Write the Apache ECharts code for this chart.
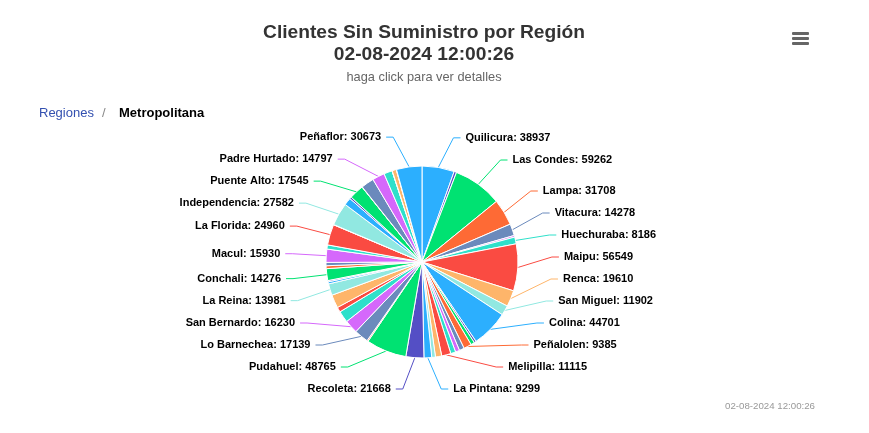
<!DOCTYPE html>
<html>
<head>
<meta charset="utf-8">
<script src="https://cdn.jsdelivr.net/npm/echarts@6/dist/echarts.min.js"></script>
<style>
html,body{margin:0;padding:0;background:#fff;}
#chart{width:869px;height:433px;}
</style>
</head>
<body>
<div id="chart"></div>
<script>
// Comunas (clockwise from the top); "Otra n" are unlabeled small slices
var names = ["Quilicura","Otra 1","Las Condes","Lampa","Vitacura","Otra 2","Huechuraba","Maipu","Renca","San Miguel",
  "Colina","Otra 3","Otra 4","Peñalolen","Otra 5","Otra 6","Otra 7","Melipilla","Otra 8","Otra 9",
  "La Pintana","Recoleta","Pudahuel","Otra 10","Lo Barnechea","San Bernardo","Otra 11","Otra 12","Otra 13","La Reina",
  "Otra 14","Otra 15","Conchali","Otra 16","Otra 17","Macul","Otra 18","La Florida","Otra 19","Independencia",
  "Otra 20","Otra 21","Puente Alto","Otra 22","Otra 23","Padre Hurtado","Otra 24","Otra 25","Otra 26","Otra 27",
  "Peñaflor"];
var values = [38937,3000,59262,31708,14278,2000,8186,56549,19610,11902,
  44701,2500,4500,9385,6000,5000,6000,11115,7500,4500,
  9299,21668,48765,1400,17139,16230,14000,6000,16000,13981,
  2500,1500,14276,3500,4000,15930,5000,24960,300,27582,
  9000,2300,17545,300,15600,14797,10000,300,5000,300,
  30673];
var labeled = ["Quilicura","Las Condes","Lampa","Vitacura","Huechuraba","Maipu","Renca","San Miguel","Colina",
  "Peñalolen","Melipilla","La Pintana","Recoleta","Pudahuel","Lo Barnechea","San Bernardo","La Reina","Conchali",
  "Macul","La Florida","Independencia","Puente Alto","Padre Hurtado","Peñaflor"];
var palette = ["#2caffe","#544fc5","#00e272","#fe6a35","#6b8abc","#d568fb","#2ee0ca","#fa4b42","#feb56a","#91e8e1"];
var titleLine1 = "Clientes Sin Suministro por Región";
var titleLine2 = "02-08-2024 12:00:26";
var subtitleText = "haga click para ver detalles";
var stampText = "02-08-2024 12:00:26";

var FONT = "'Liberation Sans', Arial, Helvetica, sans-serif";

// ---- pie geometry & data-label distribution (Highcharts-like) ----
var CX = 422, CY = 262, R = 96;
var LABEL_DIST = 30, GAP = 22, TOP = 136, BOTTOM = 389, XR = 142;
var total = values.reduce(function (a, b) { return a + b; }, 0);
var mids = [], acc = 0;
values.forEach(function (v) { mids.push((acc + v / 2) / total * 2 * Math.PI); acc += v; });

var rightList = [], leftList = [];
names.forEach(function (n, i) {
  if (labeled.indexOf(n) < 0) return;
  var item = {i: i, ideal: CY - (R + LABEL_DIST) * Math.cos(mids[i])};
  if (mids[i] < Math.PI) rightList.push(item); else leftList.push(item);
});
rightList.sort(function (a, b) { return mids[a.i] - mids[b.i]; });
leftList.sort(function (a, b) { return mids[b.i] - mids[a.i]; });

function distribute(list) {
  var n = list.length, k;
  for (k = 0; k < n; k++) list[k].y = Math.max(list[k].ideal, k === 0 ? TOP : list[k - 1].y + GAP);
  for (k = n - 1; k >= 0; k--) list[k].y = Math.min(list[k].y, k === n - 1 ? BOTTOM : list[k + 1].y - GAP);
  for (k = 0; k < n; k++) list[k].y = Math.max(list[k].y, k === 0 ? TOP : list[k - 1].y + GAP);
}
distribute(rightList); distribute(leftList);

var layoutMap = {};
function place(list, right) {
  list.forEach(function (it) {
    var dy = it.y - CY;
    var dyEff = dy + (dy < 0 ? -1 : 1) * dy * dy / 1400;
    var dx = Math.sqrt(Math.max(0, XR * XR - dyEff * dyEff));
    layoutMap[it.i] = {right: right, y: it.y, x: right ? CX + dx : CX - dx};
  });
}
place(rightList, true); place(leftList, false);

var data = names.map(function (n, i) {
  var show = labeled.indexOf(n) >= 0;
  return {name: n, value: values[i], label: {show: show}, labelLine: {show: show}};
});

var chart = echarts.init(document.getElementById('chart'), null, {renderer: 'canvas'});
chart.setOption({
  animation: false,
  color: palette,
  textStyle: {fontFamily: FONT},
  title: [
    {text: stampText, right: 49, top: 396,
     textStyle: {fontSize: 9.7, fontWeight: 'normal', color: '#999999', fontFamily: FONT}}
  ],
  graphic: [
    {type: 'text', x: 424, y: 33,
     style: {text: titleLine1, fill: '#333333', font: 'bold 19.2px ' + FONT, align: 'center', verticalAlign: 'middle'}},
    {type: 'text', x: 424, y: 54.5,
     style: {text: titleLine2, fill: '#333333', font: 'bold 19.2px ' + FONT, align: 'center', verticalAlign: 'middle'}},
    {type: 'text', x: 424, y: 77,
     style: {text: subtitleText, fill: '#666666', font: '12.8px ' + FONT, align: 'center', verticalAlign: 'middle'}},
    {type: 'text', x: 39, y: 113,
     style: {text: 'Regiones', fill: '#3350b0', font: '13px ' + FONT, verticalAlign: 'middle'}},
    {type: 'text', x: 102, y: 113,
     style: {text: '/', fill: '#888888', font: '13px ' + FONT, verticalAlign: 'middle'}},
    {type: 'text', x: 119, y: 113,
     style: {text: 'Metropolitana', fill: '#000000', font: 'bold 13px ' + FONT, verticalAlign: 'middle'}},
    {type: 'group', x: 792, y: 32, children: [
      {type: 'rect', shape: {x: 0, y: 0, width: 17, height: 3, r: 1}, style: {fill: '#666666'}},
      {type: 'rect', shape: {x: 0, y: 5, width: 17, height: 3, r: 1}, style: {fill: '#666666'}},
      {type: 'rect', shape: {x: 0, y: 10, width: 17, height: 3, r: 1}, style: {fill: '#666666'}}
    ]}
  ],
  series: [{
    type: 'pie',
    center: [CX, CY],
    radius: R,
    startAngle: 90,
    clockwise: true,
    avoidLabelOverlap: false,
    itemStyle: {borderColor: '#ffffff', borderWidth: 1},
    label: {
      position: 'outside',
      formatter: '{b}: {c}',
      color: '#000000',
      fontSize: 11,
      fontWeight: 'bold',
      fontFamily: FONT,
      textBorderColor: '#ffffff',
      textBorderWidth: 2
    },
    labelLine: {length: 22, length2: 14, lineStyle: {width: 1}},
    labelLayout: function (params) {
      var L = layoutMap[params.dataIndex];
      if (!L) return {};
      var m = mids[params.dataIndex];
      var s = L.right ? 1 : -1;
      return {
        x: L.x, y: L.y,
        align: L.right ? 'left' : 'right',
        verticalAlign: 'middle',
        labelLinePoints: [
          [CX + R * Math.sin(m), CY - R * Math.cos(m)],
          [L.x - s * 12, L.y],
          [L.x - s * 5, L.y]
        ]
      };
    },
    emphasis: {disabled: true},
    data: data
  }]
});
</script>
</body>
</html>
